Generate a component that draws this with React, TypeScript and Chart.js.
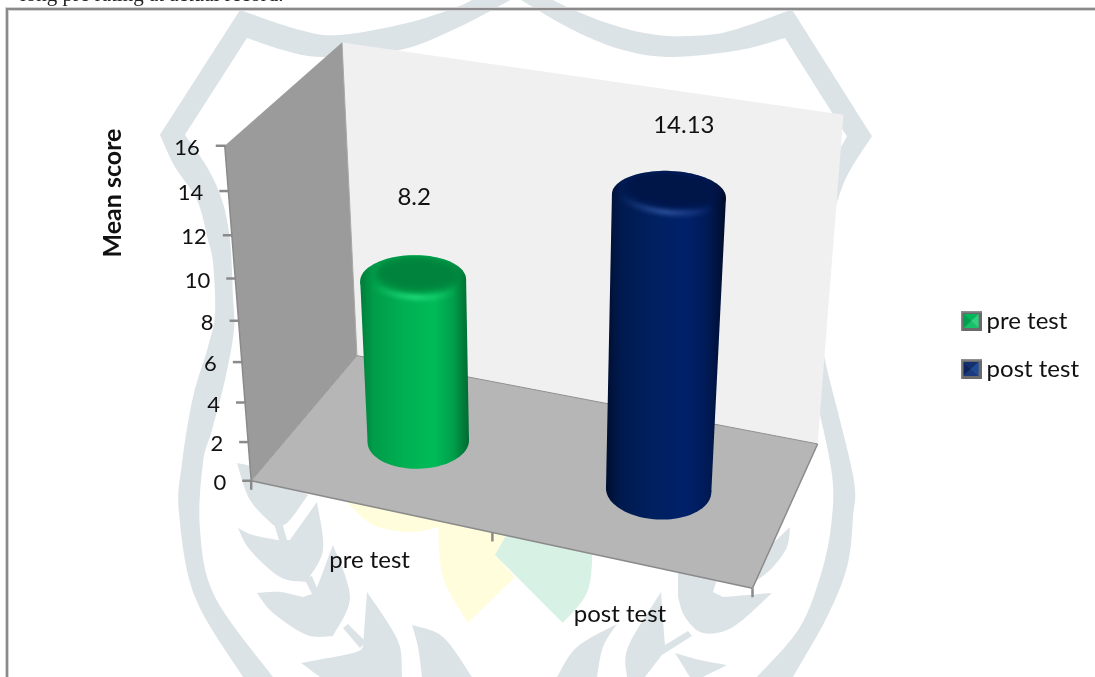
import React, { useEffect, useRef } from "react";
import { Chart, registerables } from "chart.js";

Chart.register(...registerables);

const categories = ["pre test", "post test"];
const seriesNames = ["pre test", "post test"];
const preTestValues = [8.2, null];
const postTestValues = [null, 14.13];
const yTickStep = 2;
const yMax = 16;

const FONT = "Lato";
const WIDTH = 1095;
const HEIGHT = 677;

// Camera calibration: [u, v, w, x, y], u along the categories, v up the value axis, w into the depth.
const cameraAnchors = [
  [0, 0, 0, 252, 481],
  [1, 0, 0, 752, 588.5],
  [0, 0, 1, 356.5, 355.5],
  [1, 0, 1, 818, 443.5],
  [0, 1, 0, 225, 145],
  [0, 1, 1, 342, 43],
  [1, 1, 1, 843.5, 115],
  [0, 0.5, 0, 238, 321],
];

type Pt = number[];

function solveCamera(anchors: number[][]) {
  const n = 11;
  const A = Array.from({ length: n }, () => new Array(n + 1).fill(0));
  const add = (row: number[], rhs: number) => {
    for (let i = 0; i < n; i++) {
      for (let j = 0; j < n; j++) A[i][j] += row[i] * row[j];
      A[i][n] += row[i] * rhs;
    }
  };
  for (const [u, v, w, px, py] of anchors) {
    const x = px / 1000;
    const y = py / 1000;
    add([u, v, w, 1, 0, 0, 0, 0, -x * u, -x * v, -x * w], x);
    add([0, 0, 0, 0, u, v, w, 1, -y * u, -y * v, -y * w], y);
  }
  for (let c = 0; c < n; c++) {
    let best = c;
    for (let r = c + 1; r < n; r++) if (Math.abs(A[r][c]) > Math.abs(A[best][c])) best = r;
    [A[c], A[best]] = [A[best], A[c]];
    for (let r = 0; r < n; r++) {
      if (r === c) continue;
      const f = A[r][c] / A[c][c];
      for (let k = c; k <= n; k++) A[r][k] -= f * A[c][k];
    }
  }
  return A.map((row, i) => row[n] / row[i]);
}

const cam = solveCamera(cameraAnchors);

function project(u: number, v: number, w: number): Pt {
  const d = cam[8] * u + cam[9] * v + cam[10] * w + 1;
  return [
    (1000 * (cam[0] * u + cam[1] * v + cam[2] * w + cam[3])) / d,
    (1000 * (cam[4] * u + cam[5] * v + cam[6] * w + cam[7])) / d,
  ];
}

// Background crest, traced as curve runs joined at their sharp corners.
const WATERMARK = "#dce3e7";
const shieldBand: Pt[][] = [
  [[243, 677], [195, 597], [179, 513], [182, 463], [193, 397], [208, 347], [215, 313], [213, 263], [208, 240], [197, 200], [175, 167], [160, 135]],
  [[160, 135], [240, 10]],
  [[240, 10], [300, 30], [340, 35], [407, 23], [457, 7], [477, -3], [516, -25]],
  [[516, -25], [553, 0], [607, 23], [657, 35], [707, 35], [740, 28], [792, 9.5]],
  [[792, 9.5], [872, 136]],
  [[872, 136], [843, 185], [826, 250], [820, 320], [825, 360], [853, 475], [853, 517], [847, 567], [827, 617], [793, 677]],
  [[793, 677], [757, 677]],
  [[757, 677], [800, 627], [823, 567], [832, 517], [832, 475], [820, 415], [805, 360], [800, 320], [805, 250], [820, 190], [847, 136]],
  [[847, 136], [785, 38]],
  [[785, 38], [740, 50], [673, 57], [623, 50], [573, 30], [516, -3]],
  [[516, -3], [457, 28], [400, 50], [323, 57], [283, 50], [247, 38]],
  [[247, 38], [185, 135]],
  [[185, 135], [207, 167], [222, 200], [230, 240], [233, 297], [234, 330], [225, 380], [212, 430], [203, 463], [200, 530], [215, 597], [273, 677]],
];
const crestLeaves: Pt[][][] = [
  [[[237, 463], [250, 500], [273, 525]], [[273, 525], [287, 523], [308, 495]], [[308, 495], [262, 470], [237, 463]]],
  [[[274, 524], [282, 523]], [[282, 523], [288, 543]], [[288, 543], [280, 543]]],
  [[[238, 528], [250, 550], [280, 577], [306, 582]], [[306, 582], [323, 550], [317, 502]], [[317, 502], [290, 540]], [[290, 540], [278, 540]], [[278, 540], [253, 535], [238, 528]]],
  [[[304, 578], [312, 576]], [[312, 576], [319, 593]], [[319, 593], [313, 596]]],
  [[[257, 593], [273, 613], [307, 635], [333, 636]], [[333, 636], [350, 597], [333, 545]], [[333, 545], [315, 593]], [[315, 593], [303, 597]], [[303, 597], [280, 592], [257, 593]]],
  [[[343, 628], [348, 624]], [[348, 624], [366, 642]], [[366, 642], [360, 648]]],
  [[[301, 663], [320, 677]], [[320, 677], [402, 677]], [[402, 677], [400, 647], [388, 623], [367, 592]], [[367, 592], [363, 647]], [[363, 647], [353, 653], [301, 663]]],
  [[[412, 625], [418, 647], [422, 677]], [[422, 677], [472, 677]], [[472, 677], [443, 637], [412, 625]]],
  [[[617, 624], [577, 647], [557, 677]], [[557, 677], [597, 677]], [[597, 677], [603, 647], [617, 624]]],
  [[[627, 677], [628, 647], [661, 592]], [[661, 592], [665, 645]], [[665, 645], [688, 631]], [[688, 631], [692, 636]], [[692, 636], [662, 655]], [[662, 655], [645, 677]], [[645, 677], [627, 677]]],
  [[[678, 597], [685, 617], [703, 633], [733, 627], [772, 593]], [[772, 593], [723, 597]], [[723, 597], [713, 592]], [[713, 592], [720, 570]], [[720, 570], [678, 560]], [[678, 560], [678, 597]]],
  [[[790, 527], [787, 547], [773, 567], [755, 582]], [[755, 582], [745, 570]], [[745, 570], [790, 527]]],
  [[[675, 653], [700, 660], [727, 665]], [[727, 665], [703, 677]], [[703, 677], [690, 677]], [[690, 677], [675, 653]]],
];
const yellowLeaves: Pt[][][] = [
  [[[348, 503], [373, 525], [410, 532], [440, 527]], [[440, 527], [445, 500]], [[445, 500], [348, 490]], [[348, 490], [348, 503]]],
  [[[438, 520], [443, 577], [468, 623]], [[468, 623], [515, 577]], [[515, 577], [495, 555]], [[495, 555], [515, 520]], [[515, 520], [438, 520]]],
];
const greenLeaves: Pt[][][] = [
  [[[495, 555], [563, 623]], [[563, 623], [588, 590], [593, 540]], [[593, 540], [515, 520]], [[515, 520], [495, 555]]],
];

// Catmull-Rom through each run, so the curve passes through every traced point.
function tracePath(ctx: CanvasRenderingContext2D, runs: Pt[][]) {
  ctx.beginPath();
  ctx.moveTo(runs[0][0][0], runs[0][0][1]);
  for (const run of runs) {
    for (let i = 0; i < run.length - 1; i++) {
      const p0 = run[Math.max(i - 1, 0)];
      const p1 = run[i];
      const p2 = run[i + 1];
      const p3 = run[Math.min(i + 2, run.length - 1)];
      ctx.bezierCurveTo(
        p1[0] + (p2[0] - p0[0]) / 6,
        p1[1] + (p2[1] - p0[1]) / 6,
        p2[0] - (p3[0] - p1[0]) / 6,
        p2[1] - (p3[1] - p1[1]) / 6,
        p2[0],
        p2[1],
      );
    }
  }
  ctx.closePath();
}

function drawBackdrop(ctx: CanvasRenderingContext2D) {
  ctx.fillStyle = "#ffffff";
  ctx.fillRect(0, 0, WIDTH, HEIGHT);
  ctx.fillStyle = WATERMARK;
  tracePath(ctx, shieldBand);
  ctx.fill();
  crestLeaves.forEach((leaf) => {
    tracePath(ctx, leaf);
    ctx.fill();
  });
  ctx.fillStyle = "#fffddc";
  yellowLeaves.forEach((leaf) => {
    tracePath(ctx, leaf);
    ctx.fill();
  });
  ctx.fillStyle = "#d8f1e5";
  greenLeaves.forEach((leaf) => {
    tracePath(ctx, leaf);
    ctx.fill();
  });

  // Line of running text above the frame, cut by the page edge.
  ctx.fillStyle = "#222222";
  ctx.font = "21px 'Liberation Serif'";
  ctx.textAlign = "left";
  ctx.textBaseline = "alphabetic";
  ctx.fillText("long pre rating at actual record.", 20, 0.5);

  // Chart frame
  ctx.fillStyle = "#d4d4d4";
  ctx.fillRect(5, 7, WIDTH, 4);
  ctx.fillRect(5, 7, 4, HEIGHT);
  ctx.fillStyle = "#8a8a8a";
  ctx.fillRect(6, 8, WIDTH, 2);
  ctx.fillRect(6, 8, 2, HEIGHT);
}

function fillPoly(ctx: CanvasRenderingContext2D, pts: Pt[], fill: string | CanvasGradient) {
  ctx.beginPath();
  pts.forEach((p, i) => (i ? ctx.lineTo(p[0], p[1]) : ctx.moveTo(p[0], p[1])));
  ctx.closePath();
  ctx.fillStyle = fill;
  ctx.fill();
}

function strokeLine(ctx: CanvasRenderingContext2D, a: Pt, b: Pt, color: string, width: number) {
  ctx.beginPath();
  ctx.moveTo(a[0], a[1]);
  ctx.lineTo(b[0], b[1]);
  ctx.strokeStyle = color;
  ctx.lineWidth = width;
  ctx.stroke();
}

function drawRoom(ctx: CanvasRenderingContext2D) {
  const A = project(0, 0, 0);
  const B = project(1, 0, 0);
  const C = project(0, 0, 1);
  const D = project(1, 0, 1);
  const E = project(0, 1, 0);
  const F = project(0, 1, 1);
  const G = project(1, 1, 1);
  fillPoly(ctx, [C, D, G, F], "#f0f0f0");
  fillPoly(ctx, [A, C, F, E], "#9b9b9b");
  fillPoly(ctx, [A, B, D, C], "#b6b6b6");
  strokeLine(ctx, C, F, "#a8a8a8", 1);
  strokeLine(ctx, A, C, "#999999", 1);
  strokeLine(ctx, C, D, "#8f8f8f", 1);
  strokeLine(ctx, D, B, "#8a8a8a", 1.5);
  strokeLine(ctx, A, B, "#8a8a8a", 1.5);
  strokeLine(ctx, A, E, "#8a8a8a", 1.5);
}

function drawAxes(ctx: CanvasRenderingContext2D, chart: any) {
  const xs = chart.scales.x;
  const ys = chart.scales.y;
  ctx.fillStyle = "#111111";
  ctx.font = `22px ${FONT}`;

  // Value axis runs along the front left edge of the side wall.
  ctx.textAlign = "right";
  ctx.textBaseline = "middle";
  ys.ticks.forEach((t: any) => {
    const p = project(0, ys.getDecimalForPixel(ys.getPixelForValue(t.value)), 0);
    strokeLine(ctx, [p[0] - 9, p[1]], [p[0] + 1, p[1]], "#8a8a8a", 2.5);
    ctx.fillText(String(t.value), p[0] - 25, p[1] + 2);
  });

  // Category ticks sit on the category boundaries, labels under each category.
  [0, 0.5, 1].forEach((u) => {
    const p = project(u, 0, 0);
    strokeLine(ctx, p, [p[0], p[1] + 9], "#8a8a8a", 2.5);
  });
  ctx.font = `24px ${FONT}`;
  ctx.textAlign = "center";
  xs.ticks.forEach((_t: any, i: number) => {
    const u = xs.getDecimalForPixel(xs.getPixelForTick(i));
    const p = project(u, 0, 0);
    ctx.fillText(xs.getLabelForValue(i), p[0], p[1] + 54);
  });

  // Value axis title
  const title = chart.options.scales.y.title.text;
  ctx.save();
  ctx.translate(113, 193);
  ctx.rotate(-Math.PI / 2);
  ctx.font = `bold 25px ${FONT}`;
  ctx.fillText(title, 0, 0);
  ctx.restore();
}

type Tone = { stops: [number, string][]; top: string; glow: string };
const tones: Tone[] = [
  {
    stops: [[0, "#007d3a"], [0.12, "#009c49"], [0.4, "#00b052"], [0.68, "#00bb58"], [0.85, "#00a04b"], [1, "#006a31"]],
    top: "#00843d",
    glow: "#20dd7c",
  },
  {
    stops: [[0, "#000e30"], [0.12, "#001a4e"], [0.4, "#002060"], [0.68, "#00206a"], [0.85, "#001a55"], [1, "#000c2a"]],
    top: "#001548",
    glow: "#2f549f",
  },
];

function ring(u: number, v: number, w: number, ru: number, rw: number): Pt[] {
  const out: Pt[] = [];
  for (let i = 0; i < 96; i++) {
    const a = (i / 96) * Math.PI * 2;
    out.push(project(u + ru * Math.cos(a), v, w + rw * Math.sin(a)));
  }
  return out;
}

function traceRing(ctx: CanvasRenderingContext2D, pts: Pt[]) {
  ctx.beginPath();
  pts.forEach((p, i) => (i ? ctx.lineTo(p[0], p[1]) : ctx.moveTo(p[0], p[1])));
  ctx.closePath();
}

function drawCylinder(ctx: CanvasRenderingContext2D, chart: any, el: any, tone: Tone) {
  const xs = chart.scales.x;
  const ys = chart.scales.y;
  const u = xs.getDecimalForPixel(el.x);
  const ru = el.width / (xs.right - xs.left) / 2;
  const rw = ru * 1.95;
  const w = 0.48;
  const v0 = ys.getDecimalForPixel(el.base);
  const v1 = ys.getDecimalForPixel(el.y);
  const bottom = ring(u, v0, w, ru, rw);
  const top = ring(u, v1, w, ru, rw);
  const extreme = (pts: Pt[], sign: number) => pts.reduce((m, p) => (sign * p[0] > sign * m[0] ? p : m), pts[0]);
  const bl = extreme(bottom, -1);
  const br = extreme(bottom, 1);
  const tl = extreme(top, -1);
  const tr = extreme(top, 1);
  const x0 = Math.min(bl[0], tl[0]);
  const x1 = Math.max(br[0], tr[0]);
  const grad = ctx.createLinearGradient(x0, 0, x1, 0);
  tone.stops.forEach(([s, c]) => grad.addColorStop(s, c));

  // Side wall: bottom disc plus the quad up to the top disc.
  ctx.fillStyle = grad;
  traceRing(ctx, bottom);
  ctx.fill();
  fillPoly(ctx, [tl, tr, br, bl], grad);

  // Top disc: body shading as the bevel, a highlight along its front, a darker centre.
  traceRing(ctx, top);
  ctx.fillStyle = grad;
  ctx.fill();
  ctx.save();
  const glowGrad = ctx.createLinearGradient(x0, 0, x1, 0);
  glowGrad.addColorStop(0.1, tone.glow + "00");
  glowGrad.addColorStop(0.5, tone.glow);
  glowGrad.addColorStop(0.9, tone.glow + "00");
  ctx.filter = "blur(2px)";
  const crescent = ring(u, v1, w + rw * 0.04, ru * 0.92, rw * 0.68).slice(48);
  ctx.beginPath();
  crescent.forEach((p, i) => (i ? ctx.lineTo(p[0], p[1]) : ctx.moveTo(p[0], p[1])));
  ctx.strokeStyle = glowGrad;
  ctx.lineWidth = 6;
  ctx.stroke();
  ctx.restore();
  ctx.save();
  traceRing(ctx, top);
  ctx.clip();
  ctx.filter = "blur(3px)";
  traceRing(ctx, ring(u, v1, w + rw * 0.26, ru * 0.82, rw * 0.72));
  ctx.fillStyle = tone.top;
  ctx.fill();
  ctx.restore();
}

const labelOffsets: Pt[] = [
  [1, -82],
  [15, -70],
];

const scenePlugin = {
  id: "scene",
  beforeDraw(chart: any) {
    drawBackdrop(chart.ctx);
  },
  beforeDatasetsDraw(chart: any) {
    const ctx = chart.ctx;
    drawRoom(ctx);
    drawAxes(ctx, chart);
    const xs = chart.scales.x;
    const ys = chart.scales.y;
    chart.data.datasets.forEach((ds: any, di: number) => {
      chart.getDatasetMeta(di).data.forEach((el: any, i: number) => {
        if (ds.data[i] == null) return;
        drawCylinder(ctx, chart, el, tones[di]);
        const p = project(xs.getDecimalForPixel(el.x), ys.getDecimalForPixel(el.y), 0.48);
        ctx.fillStyle = "#111111";
        ctx.font = `24px ${FONT}`;
        ctx.textAlign = "center";
        ctx.textBaseline = "middle";
        ctx.fillText(String(ds.data[i]), p[0] + labelOffsets[di][0], p[1] + labelOffsets[di][1]);
      });
    });
    return false;
  },
};

function legendSwatch(light: string, mid: string, dark: string, edge: string) {
  const c = document.createElement("canvas");
  c.width = 21;
  c.height = 20;
  const g = c.getContext("2d")!;
  g.fillStyle = "#6a6a6a";
  g.fillRect(0, 0, 21, 20);
  g.fillStyle = "#8f8f8f";
  g.fillRect(0, 0, 21, 1.5);
  g.fillRect(0, 0, 1.5, 20);
  const tri = (pts: number[][], col: string) => {
    g.beginPath();
    pts.forEach((p, i) => (i ? g.lineTo(p[0], p[1]) : g.moveTo(p[0], p[1])));
    g.closePath();
    g.fillStyle = col;
    g.fill();
  };
  const [l, t, r, b] = [3, 3, 18, 17];
  tri([[l, t], [r, t], [10.5, 10]], edge);
  tri([[l, t], [l, b], [10.5, 10]], dark);
  tri([[l, b], [r, b], [10.5, 10]], mid);
  tri([[r, t], [r, b], [10.5, 10]], light);
  return c;
}

export default function App() {
  const ref = useRef<HTMLCanvasElement | null>(null);
  useEffect(() => {
    const swatches = [
      legendSwatch("#2fd27f", "#17c168", "#00a050", "#00b95a"),
      legendSwatch("#1d4a96", "#1a3a7f", "#0c2560", "#10306f"),
    ];
    const chart = new Chart(ref.current!, {
      type: "bar",
      data: {
        labels: categories,
        datasets: [
          { label: seriesNames[0], data: preTestValues, backgroundColor: "#00b050" },
          { label: seriesNames[1], data: postTestValues, backgroundColor: "#002060" },
        ],
      },
      options: {
        responsive: false,
        animation: false,
        devicePixelRatio: 1,
        layout: { padding: { top: 13, right: 6 } },
        datasets: { bar: { grouped: false, barPercentage: 0.405, categoryPercentage: 1 } },
        plugins: {
          tooltip: { enabled: false },
          legend: {
            position: "right",
            labels: {
              usePointStyle: true,
              boxWidth: 7,
              padding: 24,
              color: "#111111",
              font: { family: FONT, size: 24 },
              generateLabels: () =>
                seriesNames.map((text, i) => ({
                  text,
                  datasetIndex: i,
                  pointStyle: swatches[i],
                  fontColor: "#111111",
                  hidden: false,
                })),
            },
          },
        },
        scales: {
          x: { display: false, offset: true },
          y: {
            display: false,
            min: 0,
            max: yMax,
            ticks: { stepSize: yTickStep },
            title: { display: false, text: "Mean score" },
          },
        },
      } as any,
      plugins: [scenePlugin],
    });
    return () => chart.destroy();
  }, []);
  return (
    <div style={{ position: "absolute", left: 0, top: 0, width: WIDTH, height: HEIGHT, overflow: "hidden" }}>
      <canvas ref={ref} width={WIDTH} height={HEIGHT} style={{ display: "block" }} />
    </div>
  );
}
